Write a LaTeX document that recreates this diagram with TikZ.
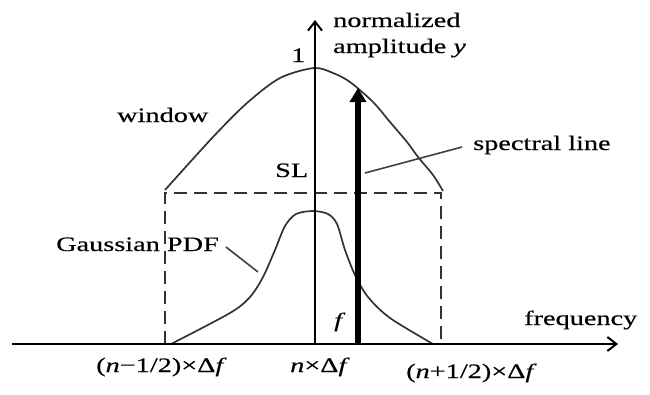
\documentclass[tikz,border=0pt]{standalone}
\usepackage{fontspec}
\setmainfont[FakeStretch=1.38,FakeBold=0.4]{Liberation Serif}
\usetikzlibrary{arrows.meta}
\begin{document}
\begin{tikzpicture}[x=1pt,y=-1pt,
  lbl/.style={font=\fontsize{20.5}{24}\selectfont, inner sep=0pt, anchor=base west},
  axisline/.style={line width=2.4pt, -{Straight Barb[length=9pt,width=14pt,line width=2pt]}},
  curveline/.style={line width=1.7pt, draw=black!80},
  dashbox/.style={line width=2.6pt, dash pattern=on 13pt off 7pt, draw=black!80},
  leader/.style={line width=1.6pt, draw=black!75},
  specline/.style={line width=5.4pt, -{Triangle[length=14pt,width=16pt]}}]
\useasboundingbox (0,0) rectangle (650,394);
% axes
\coordinate (o) at (12,344);
\coordinate (xend) at (618,344);
\coordinate (y0) at (315,344);
\coordinate (ytop) at (315,20);
% dashed box
\coordinate (dl) at (165,344);
\coordinate (dlt) at (165,193);
\coordinate (drt) at (441,193);
\coordinate (dr) at (441,344);
\draw[dashbox] (dl) -- (dlt) -- (drt) -- (dr);
% window
\draw[curveline] plot[smooth] coordinates {(165,190) (213,137) (247,103) (280,78) (314,68) (333,73) (350,82) (373,102) (390,122) (407,142) (418,157) (433,175) (443,191)};
% gaussian
\draw[curveline] plot[smooth] coordinates {(171,344) (230,313) (250,297) (263,277) (275,250) (285,226) (296,214) (313,211) (328,214) (337,224) (345,250) (355,275) (368,297) (390,318) (433,344)};
\draw[axisline] (o) -- (xend);
\draw[axisline] (y0) -- (ytop);
% spectral line
\coordinate (sb) at (358,344);
\coordinate (st) at (358,88);
\draw[specline] (sb) -- (st);
% labels
\node[lbl] (norm) at (333,27) {normalized};
\node[lbl] (ampl) at (333,53) {amplitude \textit{y}};
\node[lbl] (one) at (291,62) {1};
\node[lbl] (win) at (117,122) {window};
\node[lbl] (sl) at (275,177) {SL};
\node[lbl] (spec) at (473,150) {spectral line};
\node[lbl] (gauss) at (56,251) {Gaussian PDF};
\node[lbl] (fl) at (334,327) {\textit{f}};
\node[lbl] (freq) at (524,325) {frequency};
\node[lbl] (lm) at (96,372) {(\textit{n}−1/2)×Δ\textit{f}};
\node[lbl] (lc) at (290,372) {\textit{n}×Δ\textit{f}};
\node[lbl] (lp) at (406,378) {(\textit{n}+1/2)×Δ\textit{f}};
% leaders
\coordinate (specA) at (462,147);
\coordinate (specB) at (365,173);
\draw[leader] (specA) -- (specB);
\coordinate (gA) at (226,247);
\coordinate (gB) at (258,272);
\draw[leader] (gA) -- (gB);
\end{tikzpicture}
\end{document}
